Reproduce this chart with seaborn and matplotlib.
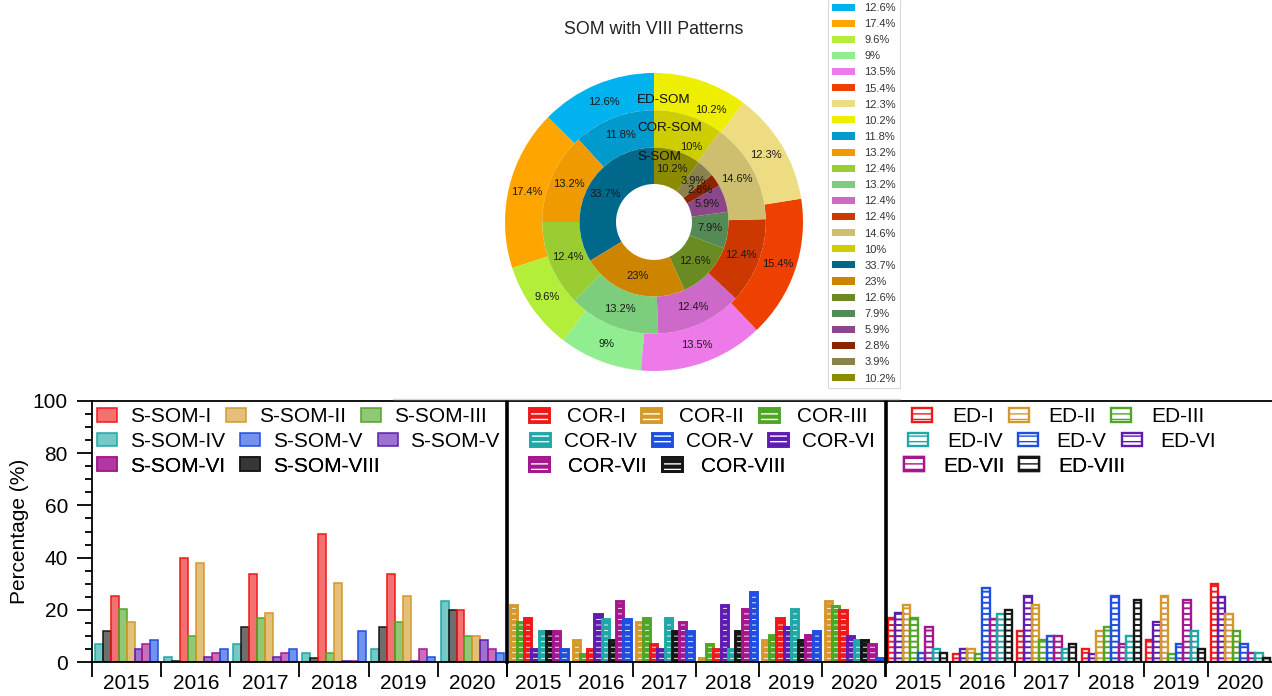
import numpy as np
import pandas as pd
import matplotlib
matplotlib.use("Agg")
import matplotlib.pyplot as plt
import seaborn as sns
from matplotlib.patches import Patch, Rectangle
from matplotlib.lines import Line2D
from matplotlib.colors import to_rgba
from matplotlib.ticker import MultipleLocator
from matplotlib.legend_handler import HandlerTuple

sns.set_theme(style="white")
plt.rcParams["font.family"] = ["Liberation Sans", "DejaVu Sans"]
plt.rcParams["hatch.linewidth"] = 1.0

W, H = 1272, 696
fig = plt.figure(figsize=(W / 100, H / 100), dpi=100)

# ---------------- donut data (counter-clockwise from 12 o'clock) ----------------
ed_som = [12.6, 17.4, 9.6, 9, 13.5, 15.4, 12.3, 10.2]
cor_som = [11.8, 13.2, 12.4, 13.2, 12.4, 12.4, 14.6, 10]
s_som = [33.7, 23, 12.6, 7.9, 5.9, 2.8, 3.9, 10.2]
ed_colors = ["#00B2EE", "#FFA500", "#B3EE3A", "#90EE90", "#EE7AE9", "#EE4000", "#EEDC82", "#EEEE00"]
cor_colors = ["#009ACD", "#EE9A00", "#9ACD32", "#7CCD7C", "#CD69C9", "#CD3700", "#CDBE70", "#CDCD00"]
s_colors = ["#00688B", "#CD8500", "#698B22", "#548B54", "#8B4789", "#8B2500", "#8B814C", "#8B8B00"]
ring_names = ["ED-SOM", "COR-SOM", "S-SOM"]

# ---------------- yearly pattern shares (%) ----------------
years = ["2015", "2016", "2017", "2018", "2019", "2020"]

s_values = {
    "I": [25.2, 39.9, 33.9, 49.0, 33.9, 19.9],
    "II": [15.3, 38.1, 18.7, 30.4, 25.2, 10.0],
    "III": [20.2, 10.0, 16.9, 3.3, 15.3, 10.0],
    "IV": [6.8, 1.8, 6.8, 3.3, 5.1, 23.4],
    "V": [8.4, 5.1, 5.1, 11.9, 1.8, 3.3],
    "VI": [5.1, 1.8, 1.8, 0.3, 0.3, 8.4],
    "VII": [6.8, 3.3, 3.3, 0.3, 5.1, 5.1],
    "VIII": [11.9, 0.5, 13.4, 1.5, 13.4, 19.9],
}
cor_values = {
    "I": [16.9, 5.1, 6.8, 5.1, 16.9, 19.9],
    "II": [22.0, 8.4, 15.3, 1.7, 8.4, 23.4],
    "III": [15.3, 3.2, 16.9, 6.8, 10.2, 21.6],
    "IV": [11.9, 16.6, 16.9, 5.1, 20.3, 8.4],
    "V": [5.1, 16.6, 11.9, 27.0, 11.9, 1.7],
    "VI": [5.1, 18.3, 5.1, 22.0, 13.6, 10.0],
    "VII": [11.9, 23.4, 15.3, 20.3, 10.2, 6.8],
    "VIII": [11.9, 8.4, 11.9, 11.9, 8.4, 8.4],
}
ed_values = {
    "I": [16.9, 3.2, 11.9, 5.1, 8.4, 29.9],
    "II": [22.0, 5.1, 22.0, 11.9, 25.3, 18.3],
    "III": [16.9, 3.2, 8.4, 13.6, 3.2, 11.9],
    "IV": [5.1, 18.3, 5.1, 10.1, 11.9, 3.5],
    "V": [3.5, 28.3, 10.1, 25.3, 6.8, 6.8],
    "VI": [18.7, 5.1, 25.3, 3.2, 15.3, 24.8],
    "VII": [13.6, 16.6, 10.1, 6.8, 23.7, 3.5],
    "VIII": [3.5, 19.9, 6.8, 23.7, 5.1, 1.7],
}

# order of bars inside each year group
s_order = ["IV", "VIII", "I", "III", "II", "VI", "VII", "V"]
cor_order = ["II", "III", "I", "VI", "IV", "VIII", "VII", "V"]
ed_order = ["I", "VI", "II", "III", "V", "VII", "IV", "VIII"]

# legend rows: (pattern, label)
s_rows = [[("I", "S-SOM-I"), ("II", "S-SOM-II"), ("III", "S-SOM-III")],
          [("IV", "S-SOM-IV"), ("V", "S-SOM-V"), ("VI", "S-SOM-V")],
          [("VII", "S-SOM-VI"), ("VIII", "S-SOM-VIII")]]
cor_rows = [[(p, f"COR-{p}") for p in ["I", "II", "III"]],
            [(p, f"COR-{p}") for p in ["IV", "V", "VI"]],
            [(p, f"COR-{p}") for p in ["VII", "VIII"]]]
ed_rows = [[(p, f"ED-{p}") for p in ["I", "II", "III"]],
           [(p, f"ED-{p}") for p in ["IV", "V", "VI"]],
           [(p, f"ED-{p}") for p in ["VII", "VIII"]]]

base_colors = {"I": "#F01818", "II": "#D4992A", "III": "#4FA626", "IV": "#1FA8A6",
               "V": "#1F4FE0", "VI": "#5E1CB0", "VII": "#A5178F", "VIII": "#161616"}

COR_HATCH_LW = 0.6
ED_HATCH_LW = 1.4
COR_EDGE_LW = 2.1
ED_EDGE_LW = 1.7


def px_box(x0, y0, x1, y1):
    """Figure-fraction rectangle from pixel corners (top-left origin)."""
    return [x0 / W, 1 - y1 / H, (x1 - x0) / W, (y1 - y0) / H]


def set_hatch_lw(p, lw):
    if hasattr(p, "set_hatch_linewidth"):
        p.set_hatch_linewidth(lw)


# ---------------- donut ----------------
CX, CY, R = 654, 222, 149
ax_pie = fig.add_axes(px_box(CX - R, CY - R, CX + R, CY + R))


def pct_text(p):
    return f"{round(p, 1):g}%"


tp = dict(fontsize=8, color="#1a1a1a")
_, _, ed_txt = ax_pie.pie(ed_som, radius=1.0, colors=ed_colors, startangle=90,
                          counterclock=True, wedgeprops=dict(width=0.25, linewidth=0),
                          autopct=pct_text, pctdistance=0.875, textprops=tp)
_, _, cor_txt = ax_pie.pie(cor_som, radius=0.75, colors=cor_colors, startangle=90,
                           counterclock=True, wedgeprops=dict(width=0.25, linewidth=0),
                           autopct=pct_text, pctdistance=0.625 / 0.75, textprops=tp)
_, _, s_txt = ax_pie.pie(s_som, radius=0.5, colors=s_colors, startangle=90,
                         counterclock=True, wedgeprops=dict(width=0.245, linewidth=0),
                         autopct=pct_text, pctdistance=0.3775 / 0.5, textprops=tp)


def polar(angle_deg, r):
    a = np.deg2rad(angle_deg)
    return r * np.cos(a), r * np.sin(a)


# keep the top-right labels clear of the ring names
ed_txt[-1].set_position(polar(63, 0.84))
cor_txt[-1].set_position(polar(63.5, 0.565))

ax_pie.set_xlim(-1, 1)
ax_pie.set_ylim(-1, 1)
ax_pie.set_aspect("equal")
ax_pie.axis("off")
for name, yy in zip(ring_names, [0.82, 0.63, 0.435]):
    ax_pie.text(-0.114, yy, name, ha="left", va="center", fontsize=9.6, color="#111111")

fig.text(654 / W, 1 - 29 / H, "SOM with VIII Patterns", ha="center", va="center",
         fontsize=12.8, color="#222222")

pie_handles = [Patch(facecolor=c, edgecolor="none") for c in ed_colors + cor_colors + s_colors]
pie_labels = [f"{v:g}%" for v in ed_som + cor_som + s_som]
pie_leg = fig.legend(pie_handles, pie_labels, loc="lower left",
                     bbox_to_anchor=(828 / W, 1 - 388 / H), bbox_transform=fig.transFigure,
                     fontsize=8, frameon=True, fancybox=False, edgecolor="#cfcfcf",
                     handlelength=2.05, handleheight=0.6, handletextpad=0.8,
                     labelspacing=0.55, borderpad=0.4, borderaxespad=0)
pie_leg.get_frame().set_linewidth(0.8)
for t in pie_leg.get_texts():
    t.set_color("#333333")

# faint frame line above the bar panels
fig.add_artist(Line2D([393 / W, 900 / W], [1 - 399 / H, 1 - 399 / H], color="#d6d6d6", lw=1))

# ---------------- bar panels ----------------
FS = 15
FS_PX = FS * 100 / 72


def long_frame(values):
    rows = [(y, pat, v) for pat, vals in values.items() for y, v in zip(years, vals)]
    return pd.DataFrame(rows, columns=["year", "pattern", "pct"])


def s_style(pat):
    c = base_colors[pat]
    return dict(facecolor=to_rgba(c, 0.62), edgecolor=c, linewidth=1.1)


def draw_panel(ax, values, order, kind):
    df = long_frame(values)
    sns.barplot(data=df, x="year", y="pct", hue="pattern", order=years, hue_order=order,
                palette=base_colors, width=0.92, saturation=1, errorbar=None,
                legend=False, ax=ax)
    lut = {tuple(np.round(to_rgba(c), 4)): p for p, c in base_colors.items()}
    for bar in list(ax.patches):
        pat = lut.get(tuple(np.round(bar.get_facecolor(), 4)))
        if pat is None:
            continue
        c = base_colors[pat]
        if kind == "s":
            st = s_style(pat)
            bar.set_facecolor(st["facecolor"])
            bar.set_edgecolor(st["edgecolor"])
            bar.set_linewidth(st["linewidth"])
            continue
        if kind == "cor":
            bar.set_facecolor(c)
            bar.set_edgecolor("white")
            set_hatch_lw(bar, COR_HATCH_LW)
            edge_lw = COR_EDGE_LW
        else:
            bar.set_facecolor("white")
            bar.set_edgecolor(c)
            set_hatch_lw(bar, ED_HATCH_LW)
            edge_lw = ED_EDGE_LW
        bar.set_hatch("---")
        bar.set_linewidth(0)
        ax.add_patch(Rectangle(bar.get_xy(), bar.get_width(), bar.get_height(),
                               fill=False, edgecolor=c, linewidth=edge_lw))

    ax.set_xlim(-0.5, len(years) - 0.5)
    ax.set_ylim(0, 100)
    ax.set_xlabel("")
    ax.set_ylabel("")
    ax.set_xticks(np.arange(-0.5, len(years), 1.0))
    ax.set_xticklabels([])
    ax.set_xticks(np.arange(len(years)), minor=True)
    ax.set_xticklabels(years, minor=True)
    ax.tick_params(axis="x", which="major", direction="out", length=11, width=1.3,
                   color="black", bottom=True)
    ax.tick_params(axis="x", which="minor", length=0, pad=8.5, labelsize=FS,
                   labelcolor="black", bottom=True)
    for side in ["top", "bottom", "left"]:
        ax.spines[side].set_visible(True)
        ax.spines[side].set_color("black")
        ax.spines[side].set_linewidth(1.3)
    ax.spines["right"].set_visible(False)


def legend_handle(pat, kind):
    c = base_colors[pat]
    if kind == "s":
        return Patch(**s_style(pat))
    if kind == "cor":
        h = Patch(facecolor=c, edgecolor="white", hatch="---", linewidth=0)
        set_hatch_lw(h, COR_HATCH_LW)
        edge_lw = COR_EDGE_LW
    else:
        h = Patch(facecolor="white", edgecolor=c, hatch="---", linewidth=0)
        set_hatch_lw(h, ED_HATCH_LW)
        edge_lw = ED_EDGE_LW
    return (h, Patch(facecolor="none", edgecolor=c, linewidth=edge_lw))


def row_legends(ax, rows, kind, xs, pads, ys=(417, 441.5, 466)):
    for row, x0, pad, y0 in zip(rows, xs, pads, ys):
        handles = [legend_handle(p, kind) for p, _ in row]
        labels = [lab for _, lab in row]
        leg = ax.legend(handles, labels, loc="center left",
                        bbox_to_anchor=(x0 / W, 1 - y0 / H), bbox_transform=fig.transFigure,
                        ncol=len(row), frameon=False, fontsize=FS,
                        handlelength=20 / FS_PX, handleheight=13 / FS_PX,
                        handletextpad=pad / FS_PX, columnspacing=15 / FS_PX,
                        borderpad=0, borderaxespad=0,
                        handler_map={tuple: HandlerTuple(ndivide=1, pad=0)})
        for t in leg.get_texts():
            t.set_color("black")
        ax.add_artist(leg)


ax1 = fig.add_axes(px_box(92, 401, 507, 662))
ax2 = fig.add_axes(px_box(507, 401, 885.5, 662))
ax3 = fig.add_axes(px_box(885.5, 401, 1272.5, 662))

draw_panel(ax1, s_values, s_order, "s")
draw_panel(ax2, cor_values, cor_order, "cor")
draw_panel(ax3, ed_values, ed_order, "ed")

# y axis only on the first panel
ax1.yaxis.set_major_locator(MultipleLocator(20))
ax1.yaxis.set_minor_locator(MultipleLocator(5))
ax1.tick_params(axis="y", which="major", direction="out", length=10.8, width=1.3,
                labelsize=FS, pad=6.5, left=True, color="black", labelcolor="black")
ax1.tick_params(axis="y", which="minor", direction="out", length=5.3, width=1.3,
                left=True, color="black")
ax1.set_ylabel("Percentage (%)", fontsize=FS, labelpad=3, color="black")
for ax in (ax2, ax3):
    ax.set_yticks([])
    ax.spines["left"].set_linewidth(2.6)

row_legends(ax1, s_rows, "s", xs=(97, 97, 97), pads=(13, 13, 13))
row_legends(ax2, cor_rows, "cor", xs=(529, 530, 529), pads=(18, 14, 19))
row_legends(ax3, ed_rows, "ed", xs=(912, 908, 904), pads=(20, 19, 19))

fig.savefig("out.png", dpi=100)
